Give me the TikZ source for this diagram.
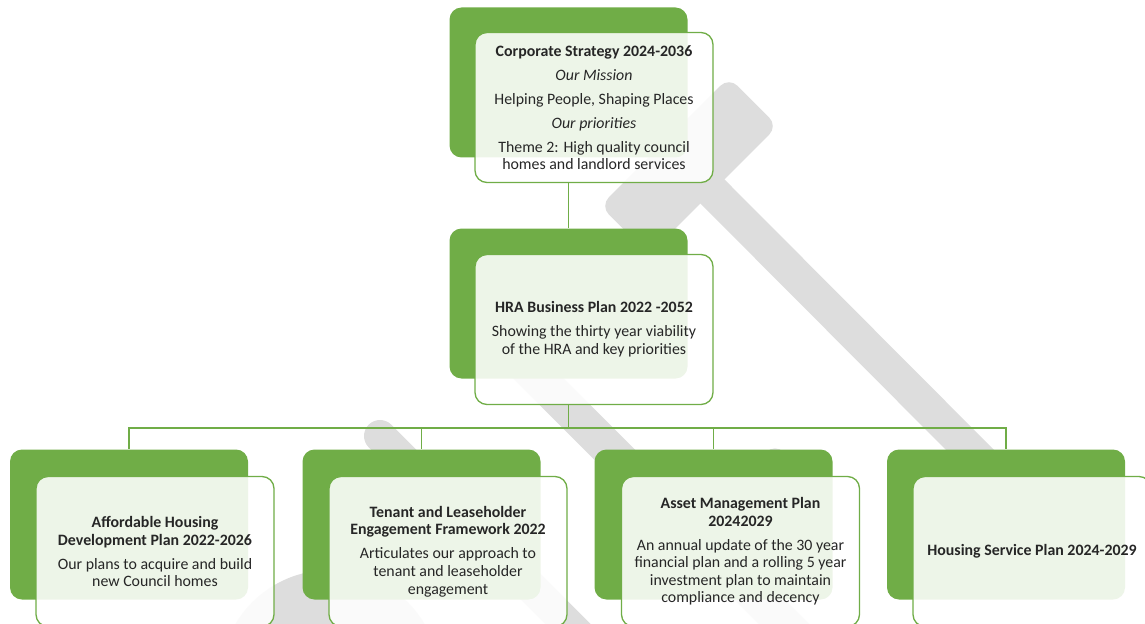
\documentclass[tikz,border=0pt]{standalone}
\usepackage{fontspec}
\setmainfont{Carlito}
\usepackage{tikz}

\definecolor{leaf}{RGB}{112,173,71}
\definecolor{mist}{RGB}{221,221,221}

\begin{document}
\begin{tikzpicture}[x=0.75pt,y=0.75pt,yscale=-1,xscale=1,
  greenbox/.style={fill=leaf, rounded corners=9pt, minimum width=178.5pt, minimum height=112.5pt, inner sep=0pt},
  panel/.style={draw=leaf, line width=1pt, fill=white, fill opacity=0.88, text opacity=1, rounded corners=9pt,
    minimum width=178.5pt, minimum height=112.5pt, inner sep=0pt, align=center,
    font=\fontsize{11.9}{13.2}\selectfont, text=black!85},
  link/.style={draw=leaf, line width=1.1pt},
  shade/.style={fill=mist}]
\useasboundingbox (0,0) rectangle (1145,624);

%Shape: gavel behind the chart
\fill[shade, rounded corners=9pt, rotate around={-45:(689,166)}] (598,131.5) rectangle (780,200.5);
\draw[mist, line width=25.5pt] (705,184) -- (990,470);
\draw[mist, line width=24pt, line cap=round] (380,436) -- (620,676);
\draw[mist, line width=27pt] (500,340) -- (800,640);
\fill[shade, rounded corners=9pt, rotate around={-45:(775,500)}] (735,460) rectangle (815,540);
\fill[shade] (330,680) circle (110);

%Shape: back boxes
\node[greenbox] (corp) at (568.5,82.5) {};
\node[greenbox] (hra) at (568.5,303.5) {};
\node[greenbox] (afford) at (129,524.5) {};
\node[greenbox] (tenant) at (421.5,524.5) {};
\node[greenbox] (asset) at (713.5,524.5) {};
\node[greenbox] (service) at (1006,524.5) {};

% Text Node
\node[panel] (corptxt) at (594,107.5) {\textbf{Corporate Strategy 2024-2036}\\[4.8pt]
  \textit{Our Mission}\\[4.8pt] Helping People, Shaping Places\\[4.8pt] \textit{Our priorities}\\[4.8pt]
  Theme 2: High quality council\\ homes and landlord services};
% Text Node
\node[panel] (hratxt) at (594,329.5) {\textbf{HRA Business Plan 2022 -2052}\\[4.8pt]
  Showing the thirty year viability\\ of the HRA and key priorities};
% Text Node
\node[panel] (affordtxt) at (155,551.5) {\textbf{Affordable Housing}\\ \textbf{Development Plan 2022-2026}\\[4.8pt]
  Our plans to acquire and build\\ new Council homes};
% Text Node
\node[panel] (tenanttxt) at (448,551.5) {\textbf{Tenant and Leaseholder}\\ \textbf{Engagement Framework 2022}\\[4.8pt]
  Articulates our approach to\\ tenant and leaseholder\\ engagement};
% Text Node
\node[panel] (assettxt) at (740.5,551.5) {\textbf{Asset Management Plan}\\ \textbf{20242029}\\[4.8pt]
  An annual update of the 30 year\\ financial plan and a rolling 5 year\\ investment plan to maintain\\ compliance and decency};
% Text Node
\node[panel] (servicetxt) at (1032,551.5) {\textbf{Housing Service Plan 2024-2029}};

%Shape: tree lines
\coordinate (bus) at (568.5,428);
\draw[link] (corp.north |- corptxt.south) -- (hra.north);
\draw[link] (hra.north |- hratxt.south) -- (bus);
\foreach \n in {afford,tenant,asset,service}
  \draw[link] (bus) -| (\n.north);

\end{tikzpicture}
\end{document}
